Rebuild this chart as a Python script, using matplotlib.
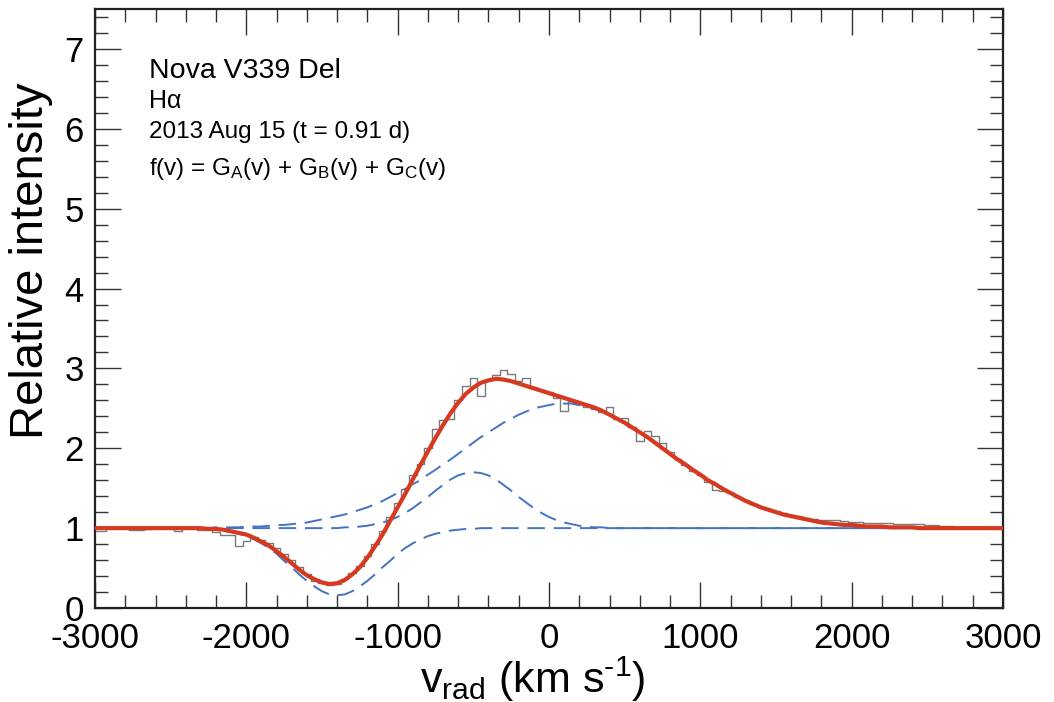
import numpy as np
import matplotlib
matplotlib.use("Agg")
import matplotlib.pyplot as plt
from matplotlib.ticker import MultipleLocator

plt.rcParams['font.family'] = ['Liberation Sans', 'DejaVu Sans']
plt.rcParams['mathtext.fontset'] = 'custom'
plt.rcParams['mathtext.rm'] = 'Liberation Sans'
plt.rcParams['mathtext.default'] = 'regular'
plt.rcParams['axes.unicode_minus'] = False

# radial velocity grid (km/s), one value every 50 km/s from -3000 to 3000
velocity = np.arange(-3000, 3001, 50)

# observed H-alpha profile (histogram, one bin per grid point)
spectrum = [
    0.97, 0.97, 1.00, 1.00, 1.00, 0.98, 0.98, 0.99, 1.00, 1.00, 1.00,
    0.96, 1.00, 1.00, 0.98, 0.98, 0.95, 0.92, 0.91, 0.78, 0.84, 0.89,
    0.85, 0.81, 0.75, 0.68, 0.60, 0.51, 0.43, 0.34, 0.31, 0.29, 0.30,
    0.36, 0.44, 0.53, 0.65, 0.80, 0.96, 1.14, 1.31, 1.49, 1.66, 1.80,
    2.00, 2.24, 2.36, 2.37, 2.60, 2.78, 2.88, 2.65, 2.86, 2.92, 2.98,
    2.93, 2.84, 2.88, 2.76, 2.73, 2.70, 2.63, 2.47, 2.59, 2.56, 2.52,
    2.49, 2.45, 2.52, 2.37, 2.38, 2.27, 2.09, 2.21, 2.15, 2.07, 1.95,
    1.86, 1.79, 1.72, 1.66, 1.58, 1.48, 1.46, 1.44, 1.39, 1.35, 1.30,
    1.27, 1.24, 1.22, 1.19, 1.16, 1.15, 1.13, 1.12, 1.10, 1.10, 1.10,
    1.09, 1.08, 1.08, 1.07, 1.07, 1.06, 1.06, 1.05, 1.05, 1.05, 1.05,
    1.04, 1.04, 1.03, 1.03, 1.02, 1.02, 1.02, 1.01, 1.00, 1.00, 1.00,
]

# total fit f(v) = G_A + G_B + G_C (continuum at 1)
fit_total = [
    1.00, 1.00, 1.00, 1.00, 1.00, 1.00, 1.00, 1.00, 1.00, 1.00, 1.00,
    1.00, 1.00, 1.00, 1.00, 0.99, 0.99, 0.98, 0.96, 0.94, 0.92, 0.88,
    0.83, 0.78, 0.71, 0.64, 0.56, 0.48, 0.41, 0.36, 0.32, 0.30, 0.31,
    0.35, 0.42, 0.51, 0.63, 0.77, 0.92, 1.09, 1.26, 1.43, 1.61, 1.79,
    1.96, 2.13, 2.29, 2.44, 2.57, 2.68, 2.76, 2.82, 2.85, 2.87, 2.86,
    2.84, 2.81, 2.78, 2.75, 2.72, 2.69, 2.66, 2.63, 2.60, 2.57, 2.54,
    2.51, 2.47, 2.42, 2.37, 2.32, 2.26, 2.20, 2.14, 2.07, 2.00, 1.93,
    1.86, 1.80, 1.73, 1.67, 1.60, 1.55, 1.49, 1.44, 1.39, 1.34, 1.30,
    1.26, 1.23, 1.20, 1.17, 1.15, 1.13, 1.11, 1.09, 1.07, 1.06, 1.05,
    1.04, 1.04, 1.03, 1.02, 1.02, 1.02, 1.01, 1.01, 1.01, 1.01, 1.00,
    1.00, 1.00, 1.00, 1.00, 1.00, 1.00, 1.00, 1.00, 1.00, 1.00, 1.00,
]

# single components, each drawn on top of the continuum
comp_a = [
    1.00, 1.00, 1.00, 1.00, 1.00, 1.00, 1.00, 1.00, 1.00, 1.00, 1.00,
    1.00, 1.00, 1.00, 1.00, 1.00, 1.00, 1.00, 1.00, 1.00, 1.00, 1.00,
    1.00, 1.00, 1.00, 1.00, 1.00, 1.00, 1.00, 1.00, 1.00, 1.00, 1.00,
    1.01, 1.01, 1.02, 1.03, 1.05, 1.07, 1.10, 1.14, 1.19, 1.25, 1.32,
    1.39, 1.47, 1.54, 1.61, 1.66, 1.69, 1.70, 1.69, 1.66, 1.61, 1.54,
    1.47, 1.39, 1.32, 1.25, 1.19, 1.14, 1.10, 1.07, 1.05, 1.03, 1.02,
    1.01, 1.01, 1.00, 1.00, 1.00, 1.00, 1.00, 1.00, 1.00, 1.00, 1.00,
    1.00, 1.00, 1.00, 1.00, 1.00, 1.00, 1.00, 1.00, 1.00, 1.00, 1.00,
    1.00, 1.00, 1.00, 1.00, 1.00, 1.00, 1.00, 1.00, 1.00, 1.00, 1.00,
    1.00, 1.00, 1.00, 1.00, 1.00, 1.00, 1.00, 1.00, 1.00, 1.00, 1.00,
    1.00, 1.00, 1.00, 1.00, 1.00, 1.00, 1.00, 1.00, 1.00, 1.00, 1.00,
]

comp_b = [
    1.00, 1.00, 1.00, 1.00, 1.00, 1.00, 1.00, 1.00, 1.00, 1.00, 1.00,
    1.00, 1.00, 1.00, 1.00, 1.00, 1.01, 1.01, 1.01, 1.01, 1.02, 1.02,
    1.02, 1.03, 1.04, 1.04, 1.05, 1.06, 1.07, 1.09, 1.11, 1.13, 1.15,
    1.17, 1.20, 1.23, 1.26, 1.30, 1.34, 1.39, 1.44, 1.49, 1.55, 1.60,
    1.67, 1.73, 1.80, 1.86, 1.93, 2.00, 2.07, 2.14, 2.20, 2.26, 2.32,
    2.37, 2.42, 2.46, 2.50, 2.52, 2.54, 2.56, 2.56, 2.56, 2.54, 2.52,
    2.50, 2.46, 2.42, 2.37, 2.32, 2.26, 2.20, 2.14, 2.07, 2.00, 1.93,
    1.86, 1.80, 1.73, 1.67, 1.60, 1.55, 1.49, 1.44, 1.39, 1.34, 1.30,
    1.26, 1.23, 1.20, 1.17, 1.15, 1.13, 1.11, 1.09, 1.07, 1.06, 1.05,
    1.04, 1.04, 1.03, 1.02, 1.02, 1.02, 1.01, 1.01, 1.01, 1.01, 1.00,
    1.00, 1.00, 1.00, 1.00, 1.00, 1.00, 1.00, 1.00, 1.00, 1.00, 1.00,
]

comp_c = [
    1.00, 1.00, 1.00, 1.00, 1.00, 1.00, 1.00, 1.00, 1.00, 1.00, 1.00,
    1.00, 1.00, 1.00, 0.99, 0.99, 0.98, 0.97, 0.95, 0.93, 0.90, 0.86,
    0.81, 0.75, 0.68, 0.59, 0.51, 0.42, 0.34, 0.27, 0.21, 0.17, 0.16,
    0.17, 0.21, 0.27, 0.34, 0.42, 0.51, 0.59, 0.68, 0.75, 0.81, 0.86,
    0.90, 0.93, 0.95, 0.97, 0.98, 0.99, 0.99, 1.00, 1.00, 1.00, 1.00,
    1.00, 1.00, 1.00, 1.00, 1.00, 1.00, 1.00, 1.00, 1.00, 1.00, 1.00,
    1.00, 1.00, 1.00, 1.00, 1.00, 1.00, 1.00, 1.00, 1.00, 1.00, 1.00,
    1.00, 1.00, 1.00, 1.00, 1.00, 1.00, 1.00, 1.00, 1.00, 1.00, 1.00,
    1.00, 1.00, 1.00, 1.00, 1.00, 1.00, 1.00, 1.00, 1.00, 1.00, 1.00,
    1.00, 1.00, 1.00, 1.00, 1.00, 1.00, 1.00, 1.00, 1.00, 1.00, 1.00,
    1.00, 1.00, 1.00, 1.00, 1.00, 1.00, 1.00, 1.00, 1.00, 1.00, 1.00,
]

info_lines = ["Nova V339 Del", "H\u03b1", "2013 Aug 15 (t = 0.91 d)",
              "f(v) = G$_A$(v) + G$_B$(v) + G$_C$(v)"]

fig = plt.figure(figsize=(10.54, 7.02), dpi=100)
ax = fig.add_axes([0.0901, 0.1339, 0.8615, 0.8533])

ax.step(velocity, spectrum, where='mid', color='#7a7a7a', lw=1.0, zorder=2)
for comp in (comp_a, comp_b, comp_c):
    ax.plot(velocity, comp, color='#4472c4', lw=1.4, dashes=(9, 4.5), zorder=3)
ax.plot(velocity, fit_total, color='#d6391f', lw=3.0, zorder=4,
        solid_joinstyle='round')

ax.set_xlim(-3000, 3000)
ax.set_ylim(0, 7.5)
ax.xaxis.set_major_locator(MultipleLocator(1000))
ax.xaxis.set_minor_locator(MultipleLocator(200))
ax.yaxis.set_major_locator(MultipleLocator(1))
ax.yaxis.set_minor_locator(MultipleLocator(0.2))
ax.tick_params(which='both', direction='in', top=True, right=True,
               width=1.0, color='#333333')
ax.tick_params(which='major', length=19, labelsize=25, pad=8)
ax.tick_params(axis='x', which='major', pad=10)
ax.tick_params(which='minor', length=9.5)
for sp in ax.spines.values():
    sp.set_linewidth(1.6)
    sp.set_color('#222222')

ax.set_ylabel("Relative intensity", fontsize=34)
ax.yaxis.set_label_coords(-0.046, 0.58)
ax.set_xlabel(r"v$_{rad}$ (km s$^{\text{-1}}$)", fontsize=31)
ax.xaxis.set_label_coords(0.482, -0.077)

text_sizes = [20.5, 18, 17.5, 17.5]
text_y = [0.885, 0.835, 0.785, 0.723]
for line, size, y in zip(info_lines, text_sizes, text_y):
    ax.text(0.0595, y, line, transform=ax.transAxes, fontsize=size,
            va='baseline', ha='left')

fig.savefig("out.png", dpi=100)
